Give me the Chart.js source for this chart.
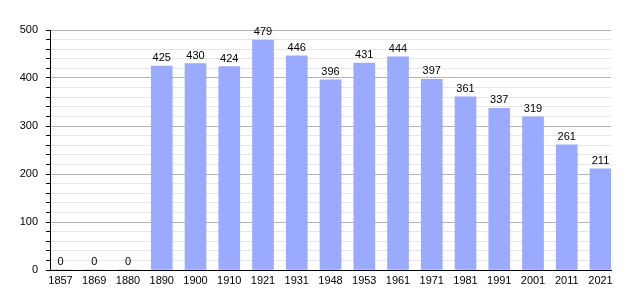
<!DOCTYPE html>
<html>
<head>
<meta charset="utf-8">
<script src="https://cdn.jsdelivr.net/npm/chart.js@4"></script>
<style>
html, body { margin: 0; padding: 0; background: #fff; }
#wrap { width: 640px; height: 300px; }
</style>
</head>
<body>
<div id="wrap"><canvas id="myChart" width="640" height="300"></canvas></div>
<script>
const years = ['1857', '1869', '1880', '1890', '1900', '1910', '1921', '1931', '1948',
  '1953', '1961', '1971', '1981', '1991', '2001', '2011', '2021'];
const population = [0, 0, 0, 425, 430, 424, 479, 446, 396, 431, 444, 397, 361, 337, 319, 261, 211];
const yTicks = [0, 100, 200, 300, 400, 500];

const FONT = { family: '"Liberation Sans", Arial, sans-serif', size: 11 };

// numbers above the bars
const valueLabels = {
  id: 'valueLabels',
  afterDatasetsDraw(chart) {
    const ctx = chart.ctx;
    const meta = chart.getDatasetMeta(0);
    ctx.save();
    ctx.font = FONT.size + 'px ' + FONT.family;
    ctx.fillStyle = '#000';
    ctx.textAlign = 'center';
    ctx.textBaseline = 'middle';
    meta.data.forEach((bar, i) => {
      ctx.fillText(String(population[i]), bar.x, bar.y - 8);
    });
    ctx.restore();
  }
};

const data = {
  datasets: [{
    data: population.map((v, i) => ({ x: i, y: v })),
    backgroundColor: '#99aaff',
    borderWidth: 0,
    barThickness: 21
  }]
};

const config = {
  type: 'bar',
  data: data,
  plugins: [valueLabels],
  options: {
    responsive: false,
    animation: false,
    layout: { padding: { top: 30, right: 29, left: 0, bottom: 0 } },
    plugins: {
      legend: { display: false },
      tooltip: { enabled: false }
    },
    scales: {
      x: {
        type: 'linear',
        offset: false,
        min: -0.311,
        max: 16.311,
        afterBuildTicks: (axis) => { axis.ticks = years.map((_, i) => ({ value: i })); },
        afterFit: (axis) => { axis.height = 30; },
        grid: { display: false, drawTicks: false },
        border: { display: true, color: '#000', width: 1 },
        ticks: {
          autoSkip: false,
          maxRotation: 0,
          padding: 4,
          color: '#000',
          font: FONT,
          callback: (v) => years[v]
        }
      },
      y: {
        min: 0,
        max: 500,
        afterFit: (axis) => { axis.width = 50; },
        grid: {
          color: (c) => (c.tick && c.tick.value % 100 === 0) ? '#b4b4b4' : '#e6e6e6',
          tickColor: '#000',
          tickLength: 4
        },
        border: { display: true, color: '#000', width: 1 },
        ticks: {
          stepSize: 20,
          autoSkip: false,
          padding: 8,
          color: '#000',
          font: FONT,
          callback: (v) => yTicks.includes(v) ? String(v) : ''
        }
      }
    }
  }
};

var myChart = new Chart(document.getElementById('myChart'), config);
</script>
</body>
</html>
